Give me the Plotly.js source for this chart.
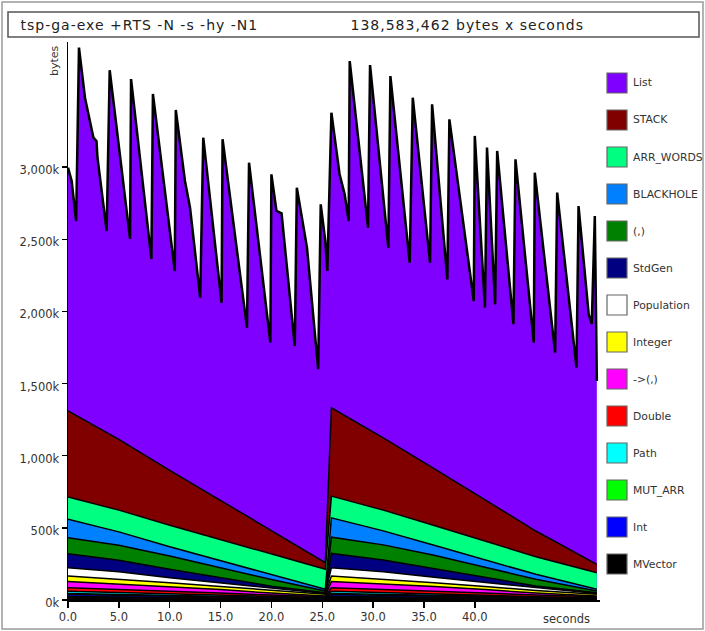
<!DOCTYPE html>
<html>
<head>
<meta charset="utf-8">
<script src="https://cdn.plot.ly/plotly-3.0.1.min.js"></script>
<style>
  html, body { margin: 0; padding: 0; background: #ffffff; }
  #chart { width: 705px; height: 631px; }
</style>
</head>
<body>
<div id="chart"></div>
<script>
// ---------- DATA (kilobytes, seconds) ----------
// Top outline of the profile (total heap)
const tTotal = [0, 0.36, 0.8, 1.08, 1.67, 2.5, 2.8, 2.9, 3.6, 3.8, 4.1, 6.1, 6.2, 8.2, 8.35, 10.5, 10.6, 11.5, 12.0, 13.0, 13.3, 15.1, 15.2, 17.6, 17.8, 19.9, 20.0, 20.5, 21.0, 22.3, 22.5, 23.5, 24.6, 24.85, 25.3, 25.5,
  25.9, 26.3, 26.7, 27.2, 27.6, 27.7, 29.5, 29.7, 31.5, 31.7, 33.6, 33.9, 35.6, 35.8, 37.3, 37.5, 39.9, 40.0, 41.0, 41.2, 42.0, 42.2, 43.8, 44.0, 45.8, 45.9, 47.9, 48.1, 50.0, 50.2, 51.2, 51.5, 51.8, 52.0];
const heapTotal = [2996, 2904, 2626, 3828, 3481, 3204, 3181, 3065, 2673, 2557, 3671, 2502, 3610, 2363, 3507, 2280, 3396, 2904, 2719, 2095, 3204, 2060, 3193, 1887, 3030, 1783, 2950, 2696, 2680, 1760, 2857, 2441, 1599, 2742, 2488, 2280,
  3377, 3181, 2952, 2813, 2626, 3735, 2580, 3707, 2441, 3631, 2337, 3481, 2337, 3435, 2222, 3331, 2072, 3216, 2026, 3135, 2049, 3112, 1911, 3054, 1783, 2961, 1714, 2823, 1610, 2730, 1980, 1913, 2661, 1518];

// Sample times for the lower bands
const tBands = [0, 5, 10, 15, 20, 25.3, 25.9, 31, 36, 41, 46, 52.0];

// Band sizes (kB)
const STACK      = [596, 490, 381, 273, 166, 46,   612, 501, 395, 284, 178, 58];
const ARR_WORDS  = [155, 151, 149, 146, 142, 139,  151, 144, 137, 129, 122, 115];
const BLACKHOLE  = [127, 92, 64, 48, 32, 12,       134, 97, 69, 53, 34, 12];
const TUPLE      = [111, 104, 92, 69, 46, 11,      112, 105, 93, 70, 47, 11];
const StdGen     = [97, 81, 58, 35, 12, 6,         99, 82, 60, 36, 13, 6];
const Population = [58, 50, 36, 26, 18, 5,         58, 50, 37, 27, 18, 5];
const Integer    = [38, 34, 26, 22, 18, 12,        38, 34, 27, 22, 18, 12];
const FUNTUPLE   = [43, 37, 31, 24, 14, 5,         43, 37, 31, 24, 14, 5];
const Double     = [25, 22, 19, 15, 11, 8,         25, 22, 19, 15, 11, 8];
const Path       = [15, 13, 10, 7, 4, 2,           15, 13, 10, 7, 4, 2];
const MUT_ARR    = [7, 6, 5, 4, 3, 2,              7, 6, 5, 4, 3, 2];
const Int        = [13, 11, 9, 7, 5, 3,            13, 11, 9, 7, 5, 3];
const MVector    = [25, 22, 19, 15, 11, 8,         25, 22, 19, 15, 11, 8];

// Legend (top to bottom)
const legendNames  = ["List", "STACK", "ARR_WORDS", "BLACKHOLE", "(,)", "StdGen", "Population", "Integer", "->(,)", "Double", "Path", "MUT_ARR", "Int", "MVector"];
const legendColors = ["#7f00ff", "#800000", "#00ff80", "#0080ff", "#008000", "#000080", "#ffffff", "#ffff00", "#ff00ff", "#ff0000", "#00ffff", "#00ff00", "#0000ff", "#000000"];
const bandValues   = [null, STACK, ARR_WORDS, BLACKHOLE, TUPLE, StdGen, Population, Integer, FUNTUPLE, Double, Path, MUT_ARR, Int, MVector];

// Axis ticks
const yTickVals = [0, 500, 1000, 1500, 2000, 2500, 3000];
const yTickText = ["0k", "500k", "1,000k", "1,500k", "2,000k", "2,500k", "3,000k"];
const xTickVals = [0, 5, 10, 15, 20, 25, 30, 35, 40];
const xTickText = ["0.0", "5.0", "10.0", "15.0", "20.0", "25.0", "30.0", "35.0", "40.0"];

const titleLeft  = "tsp-ga-exe +RTS -N -s -hy -N1";
const titleRight = "138,583,462 bytes x seconds";

// ---------- LAYOUT HELPERS ----------
const W = 705, H = 631;
const M = { l: 68, r: 105, t: 42, b: 31 };
const PW = W - M.l - M.r, PH = H - M.t - M.b;
const px = x => (x - M.l) / PW;
const py = y => (H - M.b - y) / PH;
const FONT = "DejaVu Sans, Liberation Sans, Arial, sans-serif";

// ---------- TRACES ----------
const traces = [];
traces.push({
  x: tTotal, y: heapTotal, type: "scatter", mode: "lines",
  fill: "tozeroy", fillcolor: legendColors[0],
  line: { color: "#000000", width: 2.5 }, hoverinfo: "skip", showlegend: false
});
for (let i = legendNames.length - 1; i >= 1; i--) {
  traces.push({
    x: tBands, y: bandValues[i], type: "scatter", mode: "lines",
    stackgroup: "bands", fillcolor: legendColors[i],
    line: { color: "#000000", width: 1.5 }, hoverinfo: "skip", showlegend: false
  });
}

// ---------- DECORATIONS ----------
const shapes = [
  { type: "rect", xref: "paper", yref: "paper", x0: px(2), x1: px(703), y0: py(629), y1: py(2),
    line: { color: "#9a9a9a", width: 1.5 } },
  { type: "rect", xref: "paper", yref: "paper", x0: px(8), x1: px(699), y0: py(37), y1: py(12),
    line: { color: "#555555", width: 1.5 } }
];
const annotations = [
  { text: titleLeft, xref: "paper", yref: "paper", x: px(139.5), y: py(25), xanchor: "center", yanchor: "middle",
    showarrow: false, font: { family: FONT, size: 14, color: "#222" } },
  { text: titleRight, xref: "paper", yref: "paper", x: px(467.5), y: py(25), xanchor: "center", yanchor: "middle",
    showarrow: false, font: { family: FONT, size: 14, color: "#222" } },
  { text: "bytes", xref: "paper", yref: "paper", x: px(54), y: py(61), xanchor: "center", yanchor: "middle",
    textangle: -90, showarrow: false, font: { family: FONT, size: 11, color: "#333" } },
  { text: "seconds", xref: "paper", yref: "paper", x: px(566), y: py(619), xanchor: "center", yanchor: "middle",
    showarrow: false, font: { family: FONT, size: 11.5, color: "#333" } }
];
legendNames.forEach((name, i) => {
  const cy = 83 + 37 * i;
  shapes.push({ type: "rect", xref: "paper", yref: "paper",
    x0: px(607), x1: px(627), y0: py(cy + 10), y1: py(cy - 10),
    fillcolor: legendColors[i], line: { color: "#666666", width: 1.2 } });
  annotations.push({ text: name, xref: "paper", yref: "paper", x: px(631), y: py(cy),
    xanchor: "left", yanchor: "middle", showarrow: false,
    font: { family: FONT, size: 10.8, color: "#333" } });
});

const layout = {
  width: W, height: H, margin: M,
  paper_bgcolor: "#ffffff", plot_bgcolor: "#ffffff",
  showlegend: false, hovermode: false,
  xaxis: {
    range: [0, PW / 10.17], tickvals: xTickVals, ticktext: xTickText,
    showgrid: false, zeroline: false, showline: true, linecolor: "#000", linewidth: 1.5,
    ticks: "outside", ticklen: 6, tickcolor: "#000", tickwidth: 1.5,
    tickfont: { family: FONT, size: 11.5, color: "#333" }
  },
  yaxis: {
    range: [0, PH / 0.1443], tickvals: yTickVals, ticktext: yTickText,
    showgrid: false, zeroline: false, showline: true, linecolor: "#000", linewidth: 1.5,
    ticks: "outside", ticklen: 5, tickcolor: "#000", tickwidth: 1.5, ticklabelshift: 3,
    tickfont: { family: FONT, size: 11.5, color: "#333" }
  },
  shapes: shapes, annotations: annotations
};

Plotly.newPlot("chart", traces, layout, { staticPlot: true, displayModeBar: false }).then(gd => {
  // widen the two header texts slightly, like the reference's stretched lettering
  const texts = gd.querySelectorAll(".annotation-text");
  [0, 1].forEach(k => { if (texts[k]) texts[k].style.letterSpacing = "1px"; });
});
</script>
</body>
</html>
